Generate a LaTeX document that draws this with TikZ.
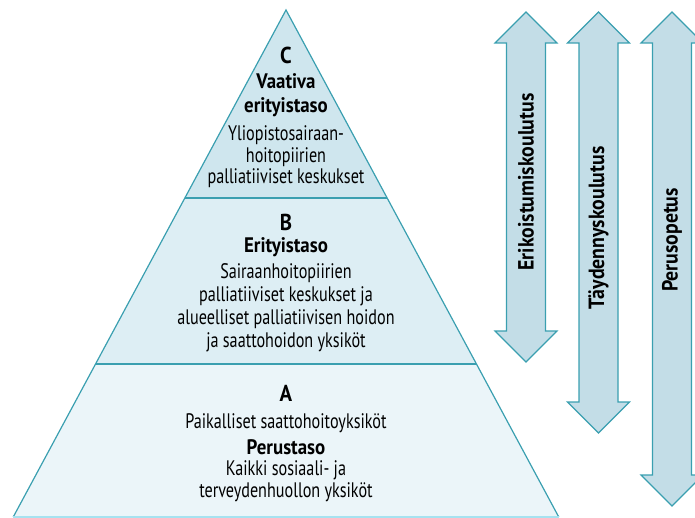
\documentclass[tikz,border=0pt]{standalone}
\usepackage{fontspec}
\setmainfont[FakeStretch=0.77, BoldFeatures={FakeStretch=0.9}]{PT Sans}

\definecolor{edgeteal}{HTML}{3A9FB0}
\definecolor{fillC}{HTML}{CFE6EE}
\definecolor{fillB}{HTML}{DDEEF4}
\definecolor{fillA}{HTML}{EBF5F9}
\definecolor{fillArr}{HTML}{C3DDE7}
\definecolor{baseline}{HTML}{A6E2F0}

\begin{document}
\begin{tikzpicture}[
    x=1pt, y=-1pt,
    every node/.append style = {font=\fontsize{21}{22}\selectfont, inner sep=0pt},
    level/.style = {draw=edgeteal, line width=1.2pt, line join=miter},
    letter/.style = {font=\fontsize{23}{24}\selectfont\bfseries},
    title/.style = {font=\fontsize{21}{24}\selectfont\bfseries, align=center},
    desc/.style = {align=center},
    arrowbox/.style = {draw=edgeteal, fill=fillArr, line width=1.2pt, line join=miter},
    arrowtext/.style = {font=\fontsize{22}{22}\selectfont\bfseries, rotate=90}
  ]
  \clip (0,0) rectangle (695,518);
  %%+++++++++++++++++++++++++
  % Variables
  % Pyramid
  \pgfmathsetmacro{\xtop}{286}
  \pgfmathsetmacro{\ytop}{10}
  \pgfmathsetmacro{\slope}{0.538}
  \pgfmathsetmacro{\yCB}{198}
  \pgfmathsetmacro{\yBA}{364}
  \pgfmathsetmacro{\ybase}{517}
  % Arrows
  \pgfmathsetmacro{\wshaft}{19.5}
  \pgfmathsetmacro{\whead}{31}
  \pgfmathsetmacro{\hhead}{31}
  %%+++++++++++++++++++++++++
  % Drawing
  % Level A
  \fill[fillA] (\xtop - \slope*\ybase + \slope*\ytop, \ybase) -- (\xtop - \slope*\yBA + \slope*\ytop, \yBA)
    -- (\xtop + \slope*\yBA - \slope*\ytop, \yBA) -- (\xtop + \slope*\ybase - \slope*\ytop, \ybase) -- cycle;
  % Level B
  \fill[fillB] (\xtop - \slope*\yBA + \slope*\ytop, \yBA) -- (\xtop - \slope*\yCB + \slope*\ytop, \yCB)
    -- (\xtop + \slope*\yCB - \slope*\ytop, \yCB) -- (\xtop + \slope*\yBA - \slope*\ytop, \yBA) -- cycle;
  % Level C
  \fill[fillC] (\xtop - \slope*\yCB + \slope*\ytop, \yCB) -- (\xtop, \ytop)
    -- (\xtop + \slope*\yCB - \slope*\ytop, \yCB) -- cycle;
  % Outline
  \draw[level] (\xtop - \slope*\ybase + \slope*\ytop, \ybase) -- (\xtop, \ytop) -- (\xtop + \slope*\ybase - \slope*\ytop, \ybase);
  \draw[level] (\xtop - \slope*\yCB + \slope*\ytop, \yCB) -- (\xtop + \slope*\yCB - \slope*\ytop, \yCB);
  \draw[level] (\xtop - \slope*\yBA + \slope*\ytop, \yBA) -- (\xtop + \slope*\yBA - \slope*\ytop, \yBA);
  \draw[draw=baseline, line width=1.2pt] (\xtop - \slope*\ybase + \slope*\ytop, \ybase) -- (\xtop + \slope*\ybase - \slope*\ytop, \ybase);
  % Texts C
  \node[letter] (levC) at (\xtop, 55) {C};
  \node[title] (titC) at (\xtop, 95) {Vaativa\\erityistaso};
  \node[desc, font=\fontsize{21}{21.5}\selectfont] (desC) at (\xtop, 157) {Yliopistosairaan-\\hoitopiirien\\palliatiiviset keskukset};
  % Texts B
  \node[letter] (levB) at (\xtop, 222) {B};
  \node[title] (titB) at (\xtop, 247) {Erityistaso};
  \node[desc, font=\fontsize{21}{23}\selectfont] (desB) at (\xtop, 307.5) {Sairaanhoitopiirien\\palliatiiviset keskukset ja\\alueelliset palliatiivisen hoidon\\ja saattohoidon yksiköt};
  % Texts A
  \node[letter] (levA) at (\xtop, 393) {A};
  \node[desc] (locA) at (\xtop, 423) {Paikalliset saattohoitoyksiköt};
  \node[title] (titA) at (\xtop, 447) {Perustaso};
  \node[desc, font=\fontsize{21}{22}\selectfont] (desA) at (\xtop, 481) {Kaikki sosiaali- ja\\terveydenhuollon yksiköt};
  % Education arrows
  \foreach \xc/\ybot/\ylab/\name/\txt in {526/362/182/erik/Erikoistumiskoulutus,
      598.5/433/228/tayd/Täydennyskoulutus, 672/506/240/perus/Perusopetus}{
    \draw[arrowbox] (\xc, 12) -- (\xc + \whead, 12 + \hhead) -- (\xc + \wshaft, 12 + \hhead)
      -- (\xc + \wshaft, \ybot - \hhead) -- (\xc + \whead, \ybot - \hhead) -- (\xc, \ybot)
      -- (\xc - \whead, \ybot - \hhead) -- (\xc - \wshaft, \ybot - \hhead)
      -- (\xc - \wshaft, 12 + \hhead) -- (\xc - \whead, 12 + \hhead) -- cycle;
    \node[arrowtext] (\name) at (\xc, \ylab) {\txt};
  }
\end{tikzpicture}
\end{document}
